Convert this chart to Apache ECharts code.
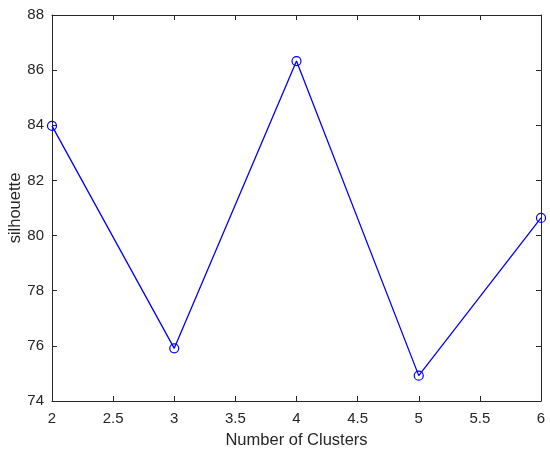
<!DOCTYPE html>
<html>
<head>
<meta charset="utf-8">
<script src="https://cdn.jsdelivr.net/npm/echarts@6/dist/echarts.min.js"></script>
<style>html,body{margin:0;padding:0;background:#fff}#c{width:550px;height:454px}</style>
</head>
<body>
<div id="c"></div>
<script>
const clusters = [2, 3, 4, 5, 6];
const silhouette = [83.98, 75.91, 86.33, 74.92, 80.64];
const xTitle = 'Number of Clusters';
const yTitle = 'silhouette';

const axisColor = '#262626';
const font = 'Liberation Sans, Arial, sans-serif';
const baseAxis = {
  axisLine: {show: true, onZero: false, lineStyle: {color: axisColor, width: 1}},
  axisTick: {show: true, inside: true, length: 5, lineStyle: {color: axisColor}},
  splitLine: {show: false}
};
const chart = echarts.init(document.getElementById('c'), null, {renderer: 'canvas'});
chart.setOption({
  animation: false,
  grid: {left: 52, right: 9, top: 15, bottom: 53, containLabel: false, outerBoundsMode: 'none'},
  xAxis: [
    Object.assign({}, baseAxis, {
      type: 'value', min: 2, max: 6, interval: 0.5, position: 'bottom',
      name: xTitle, nameLocation: 'middle', nameGap: 31, nameMoveOverlap: false,
      nameTextStyle: {fontFamily: font, fontSize: 16.5, color: '#262626'},
      axisLabel: {fontFamily: font, fontSize: 15, color: '#262626', margin: 10}
    }),
    Object.assign({}, baseAxis, {
      type: 'value', min: 2, max: 6, interval: 0.5, position: 'top',
      axisLabel: {show: false}
    })
  ],
  yAxis: [
    Object.assign({}, baseAxis, {
      type: 'value', min: 74, max: 88, interval: 2, position: 'left',
      name: yTitle, nameLocation: 'middle', nameGap: 28, nameMoveOverlap: false,
      nameTextStyle: {fontFamily: font, fontSize: 16.5, color: '#262626'},
      axisLabel: {fontFamily: font, fontSize: 15, color: '#262626', margin: 8}
    }),
    Object.assign({}, baseAxis, {
      type: 'value', min: 74, max: 88, interval: 2, position: 'right',
      axisLabel: {show: false}
    })
  ],
  series: [{
    type: 'line',
    data: clusters.map((c, i) => [c, silhouette[i]]),
    symbol: 'circle',
    symbolSize: 9,
    showSymbol: true,
    lineStyle: {color: '#0000ff', width: 1.3},
    itemStyle: {color: 'rgba(0,0,0,0)', borderColor: '#0000ff', borderWidth: 1.2}
  }]
});
</script>
</body>
</html>
